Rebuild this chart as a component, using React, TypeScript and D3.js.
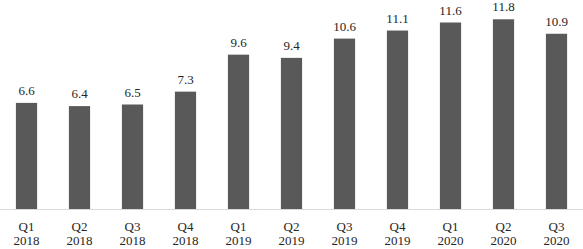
import React from "react";
import * as d3 from "d3";

const quarters = ["Q1", "Q2", "Q3", "Q4", "Q1", "Q2", "Q3", "Q4", "Q1", "Q2", "Q3"];
const years = ["2018", "2018", "2018", "2018", "2019", "2019", "2019", "2019", "2020", "2020", "2020"];
const values = [6.6, 6.4, 6.5, 7.3, 9.6, 9.4, 10.6, 11.1, 11.6, 11.8, 10.9];

const W = 583;
const H = 249;

export default function App() {
  const keys = quarters.map((q, i) => `${q} ${years[i]}`);
  const x = d3.scaleBand<string>().domain(keys).range([0, W]).paddingInner(0.6).paddingOuter(0.3);
  const y = d3.scaleLinear().domain([0, 13]).range([209, 0]);
  const textStyle: React.CSSProperties = {
    fontFamily: '"Liberation Serif", "Times New Roman", Times, serif',
    fontSize: "13px",
    fontWeight: 400,
  };
  return (
    <svg width={W} height={H} style={{ position: "fixed", left: 0, top: 0, background: "#fff" }}>
      {values.map((v, i) => {
        const k = keys[i];
        const x0 = x(k)!;
        const cx = x0 + x.bandwidth() / 2;
        return (
          <g key={k}>
            <rect x={x0} y={y(v)} width={x.bandwidth()} height={y(0) - y(v)} fill="#595959" />
            <text x={cx} y={y(v) - 8} textAnchor="middle" style={textStyle} fill="#262626">
              {v.toFixed(1)}
            </text>
            <text x={cx} y={231} textAnchor="middle" style={textStyle} fill="#262626">
              {quarters[i]}
            </text>
            <text x={cx} y={244.5} textAnchor="middle" style={textStyle} fill="#262626">
              {years[i]}
            </text>
          </g>
        );
      })}
      <line x1={0} x2={W} y1={209.5} y2={209.5} stroke="#d9d9d9" strokeWidth={1} />
    </svg>
  );
}
